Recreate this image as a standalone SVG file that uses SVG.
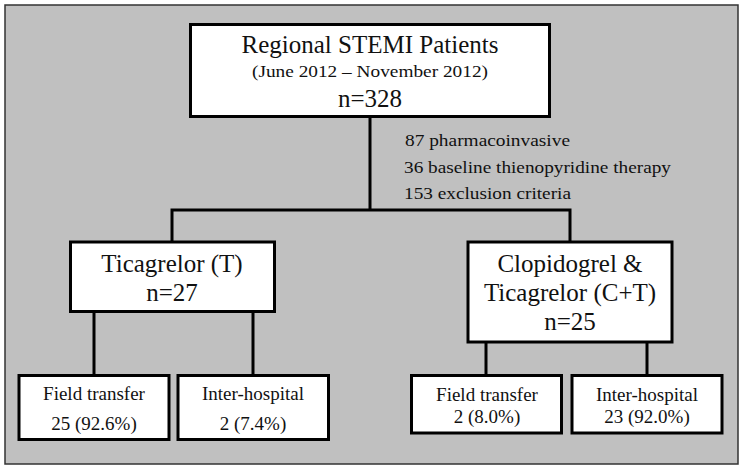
<svg xmlns="http://www.w3.org/2000/svg" width="743" height="470" viewBox="0 0 743 470">
<style>
.box{fill:#fff;stroke:#000;stroke-width:3}
.ln{stroke:#000;stroke-width:3;fill:none;stroke-linecap:square}
text{font-family:"Liberation Serif","Times New Roman",serif;fill:#111;text-anchor:middle}
.big{font-size:25px}
.mid{font-size:19px}
.side{font-size:17px;text-anchor:start}
</style>
<rect x="5" y="5" width="733" height="459" fill="#c0c0c0" stroke="#333" stroke-width="1.5"/>
<g id="connectors">
<path class="ln" d="M370,118 V210 M172,210 H570 M172,210 V241 M570,210 V241"/>
<path class="ln" d="M94,313 V374 M253,313 V374 M486,343 V374 M647,343 V374"/>
</g>
<g id="side-note">
<text class="side" x="405" y="146" textLength="165" lengthAdjust="spacingAndGlyphs">87 pharmacoinvasive</text>
<text class="side" x="404" y="173" textLength="267" lengthAdjust="spacingAndGlyphs">36 baseline thienopyridine therapy</text>
<text class="side" x="404" y="199" textLength="167" lengthAdjust="spacingAndGlyphs">153 exclusion criteria</text>
</g>
<g id="regional">
<rect class="box" x="190.5" y="24.5" width="359" height="92"/>
<text class="big" x="370" y="53">Regional STEMI Patients</text>
<text x="370" y="77" font-size="17" textLength="236" lengthAdjust="spacingAndGlyphs">(June 2012 – November 2012)</text>
<text class="big" x="370" y="107">n=328</text>
</g>
<g id="ticagrelor">
<rect class="box" x="70.5" y="242" width="204" height="69.5"/>
<text class="big" x="172" y="272">Ticagrelor (T)</text>
<text class="big" x="172" y="301">n=27</text>
</g>
<g id="clopidogrel">
<rect class="box" x="468" y="242" width="204" height="100"/>
<text class="big" x="570" y="272">Clopidogrel &amp;</text>
<text class="big" x="570" y="301">Ticagrelor (C+T)</text>
<text class="big" x="570" y="330">n=25</text>
</g>
<g id="t-field">
<rect class="box" x="19" y="375.5" width="150" height="64"/>
<text class="mid" x="94" y="400">Field transfer</text>
<text class="mid" x="94" y="430">25 (92.6%)</text>
</g>
<g id="t-inter">
<rect class="box" x="178" y="375.5" width="150.5" height="64"/>
<text class="mid" x="253" y="400">Inter-hospital</text>
<text class="mid" x="253" y="430">2 (7.4%)</text>
</g>
<g id="ct-field">
<rect class="box" x="411.5" y="375.5" width="150" height="57.5"/>
<text class="mid" x="487" y="401">Field transfer</text>
<text class="mid" x="487" y="423">2 (8.0%)</text>
</g>
<g id="ct-inter">
<rect class="box" x="572" y="375.5" width="150" height="57.5"/>
<text class="mid" x="647" y="401">Inter-hospital</text>
<text class="mid" x="647" y="423">23 (92.0%)</text>
</g>
</svg>
